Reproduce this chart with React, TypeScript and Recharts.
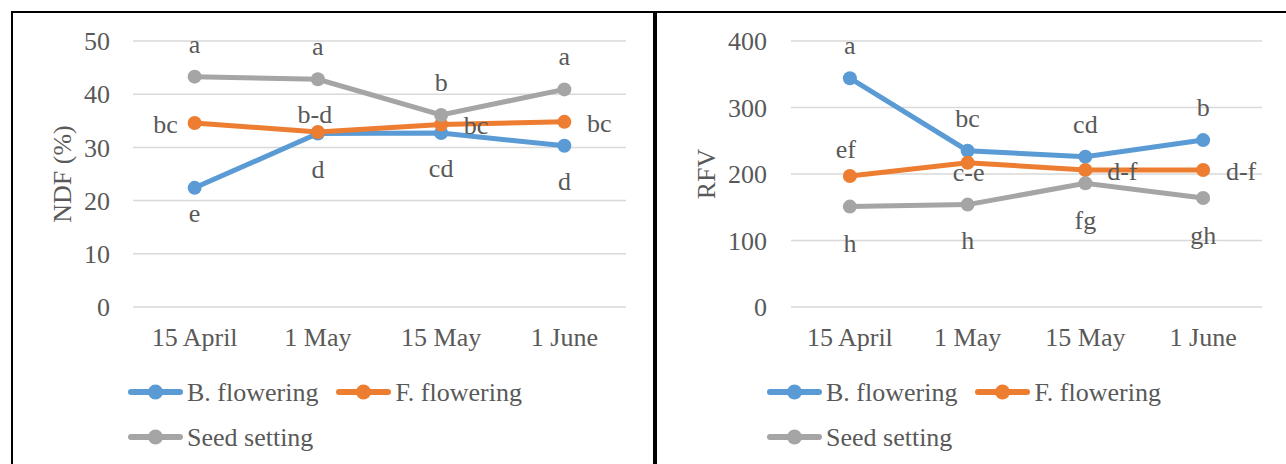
import React from "react";
import { LineChart, Line, XAxis, YAxis, CartesianGrid, Legend, LabelList } from "recharts";

const FONT = '"Liberation Serif", "Times New Roman", serif';
const TEXT = "#595959";

const dates = ["15 April", "1 May", "15 May", "1 June"];
const seriesNames = ["B. flowering", "F. flowering", "Seed setting"];
const seriesColors = ["#5B9BD5", "#ED7D31", "#A5A5A5"];

// NDF (%)
const ndfBudFlowering = [22.4, 32.6, 32.7, 30.3];
const ndfFullFlowering = [34.6, 32.9, 34.3, 34.8];
const ndfSeedSetting = [43.3, 42.8, 36.1, 40.9];
const ndfBudLetters = ["e", "d", "cd", "d"];
const ndfFullLetters = ["bc", "b-d", "bc", "bc"];
const ndfSeedLetters = ["a", "a", "b", "a"];
const ndfTicks = [0, 10, 20, 30, 40, 50];

// RFV
const rfvBudFlowering = [344, 235, 226, 251];
const rfvFullFlowering = [197, 217, 206, 206];
const rfvSeedSetting = [151, 154, 186, 164];
const rfvBudLetters = ["a", "bc", "cd", "b"];
const rfvFullLetters = ["ef", "c-e", "d-f", "d-f"];
const rfvSeedLetters = ["h", "h", "fg", "gh"];
const rfvTicks = [0, 100, 200, 300, 400];

// where each letter sits relative to its point (dx, dy to baseline)
const ndfLabelOffsets = [
  [[0, 34], [0, 44], [0, 44], [0, 44]],
  [[-29, 10], [-3, -9], [35, 9], [35, 10]],
  [[0, -24], [0, -24], [0, -24], [0, -24]],
];
const rfvLabelOffsets = [
  [[0, -24], [0, -24], [0, -24], [0, -24]],
  [[-4, -18], [1, 18], [37, 10], [38, 10]],
  [[0, 45], [0, 44], [0, 46], [0, 46]],
];

const buildRows = (series: number[][], letters: string[][]) =>
  dates.map((date, i) => ({
    date,
    s0: series[0][i],
    s1: series[1][i],
    s2: series[2][i],
    l0: letters[0][i],
    l1: letters[1][i],
    l2: letters[2][i],
  }));

const makeLabel = (offsets: number[][]) => (props: any) => {
  const { index, value } = props;
  const x = props.x ?? props.viewBox?.x;
  const y = props.y ?? props.viewBox?.y;
  const [dx, dy] = offsets[index] || [0, 0];
  return (
    <text
      key={`lbl-${index}`}
      x={x + dx}
      y={y + dy}
      textAnchor="middle"
      fill={TEXT}
      fontSize={26}
      fontFamily={FONT}
    >
      {value}
    </text>
  );
};

const renderLegend = (props: any) => {
  const { payload } = props;
  return (
    <div style={{ display: "flex", flexWrap: "wrap", width: 430 }}>
      {(payload || []).map((entry: any) => (
        <div
          key={entry.value}
          style={{ display: "flex", alignItems: "center", height: 45, marginRight: 18 }}
        >
          <svg width={55} height={16}>
            <line
              x1={3}
              y1={8}
              x2={52}
              y2={8}
              stroke={entry.color}
              strokeWidth={6}
              strokeLinecap="round"
            />
            <circle cx={27.5} cy={8} r={7.5} fill={entry.color} />
          </svg>
          <span
            style={{
              marginLeft: 4,
              fontSize: 26,
              lineHeight: "45px",
              color: TEXT,
              fontFamily: FONT,
              whiteSpace: "nowrap",
            }}
          >
            {entry.value}
          </span>
        </div>
      ))}
    </div>
  );
};

interface PanelProps {
  rows: any[];
  ticks: number[];
  title: string;
  titleX: number;
  offsets: number[][][];
  width: number;
  marginLeft: number;
  marginRight: number;
  tickGap: number;
  legendLeft: number;
}

const Panel = ({
  rows,
  ticks,
  title,
  titleX,
  offsets,
  width,
  marginLeft,
  marginRight,
  tickGap,
  legendLeft,
}: PanelProps) => {
  const tickStyle = { fill: TEXT, fontSize: 26, fontFamily: FONT };
  return (
    <LineChart
      width={width}
      height={464}
      data={rows}
      margin={{ top: 41, right: marginRight, bottom: 127, left: marginLeft }}
    >
      <CartesianGrid vertical={false} stroke="#d9d9d9" strokeWidth={1.5} />
      <XAxis
        dataKey="date"
        scale="band"
        axisLine={false}
        tickLine={false}
        tickSize={0}
        tickMargin={21}
        tick={tickStyle}
        interval={0}
      />
      <YAxis
        width={60}
        domain={[ticks[0], ticks[ticks.length - 1]]}
        ticks={ticks}
        interval={0}
        axisLine={false}
        tickLine={false}
        tickSize={0}
        tickMargin={tickGap}
        tick={tickStyle}
        label={(p: any) => {
          const vb = p.viewBox || {};
          const cy = vb.height ? vb.y + vb.height / 2 : 174;
          return (
            <text
              x={titleX}
              y={cy}
              transform={`rotate(-90, ${titleX}, ${cy})`}
              textAnchor="middle"
              dominantBaseline="central"
              fill={TEXT}
              fontSize={26}
              fontFamily={FONT}
            >
              {title}
            </text>
          );
        }}
      />
      <Legend
        layout="horizontal"
        verticalAlign="middle"
        align="center"
        content={renderLegend}
        wrapperStyle={{ left: legendLeft, top: 369.5, width: 430 }}
      />
      {[0, 1, 2].map((k) => (
        <Line
          key={k}
          type="linear"
          dataKey={`s${k}`}
          name={seriesNames[k]}
          stroke={seriesColors[k]}
          strokeWidth={5}
          dot={{ r: 7, fill: seriesColors[k], stroke: "none" }}
          activeDot={false}
          isAnimationActive={false}
        >
          <LabelList dataKey={`l${k}`} content={makeLabel(offsets[k])} />
        </Line>
      ))}
    </LineChart>
  );
};

export default function App() {
  const ndfRows = buildRows(
    [ndfBudFlowering, ndfFullFlowering, ndfSeedSetting],
    [ndfBudLetters, ndfFullLetters, ndfSeedLetters]
  );
  const rfvRows = buildRows(
    [rfvBudFlowering, rfvFullFlowering, rfvSeedSetting],
    [rfvBudLetters, rfvFullLetters, rfvSeedLetters]
  );

  return (
    <div style={{ position: "relative", width: 1286, height: 464, overflow: "hidden", background: "#fff" }}>
      <style>{`body { margin: 0; }`}</style>
      <div
        style={{
          position: "absolute",
          left: 11,
          top: 11,
          width: 640,
          height: 470,
          borderLeft: "2px solid #000",
          borderTop: "2px solid #000",
          borderRight: "2px solid #000",
        }}
      />
      <div
        style={{
          position: "absolute",
          left: 655,
          top: 11,
          width: 660,
          height: 470,
          borderLeft: "2px solid #000",
          borderTop: "2px solid #000",
        }}
      />
      <div style={{ position: "absolute", left: 0, top: 0 }}>
        <Panel
          rows={ndfRows}
          ticks={ndfTicks}
          title="NDF (%)"
          titleX={62}
          offsets={ndfLabelOffsets}
          width={655}
          marginLeft={73}
          marginRight={29}
          tickGap={23}
          legendLeft={128}
        />
      </div>
      <div style={{ position: "absolute", left: 655, top: 0 }}>
        <Panel
          rows={rfvRows}
          ticks={rfvTicks}
          title="RFV"
          titleX={51}
          offsets={rfvLabelOffsets}
          width={631}
          marginLeft={76}
          marginRight={24}
          tickGap={24}
          legendLeft={112}
        />
      </div>
    </div>
  );
}
